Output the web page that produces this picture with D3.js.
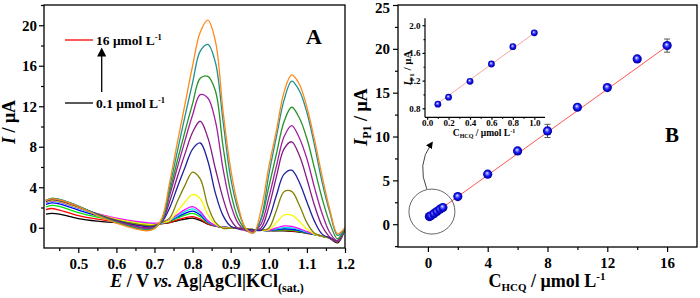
<!DOCTYPE html>
<html>
<head>
<meta charset="utf-8">
<script src="https://cdn.jsdelivr.net/npm/d3@7"></script>
<style>
body { margin: 0; background: #fff; }
svg { display: block; font-family: "Liberation Serif", "Times New Roman", serif; font-weight: bold; }
</style>
</head>
<body>
<svg id="chart" width="700" height="298"></svg>
<script>
// ---- panel A: DPV curves, potential (V) and current (uA)
var potential = [0.415,0.43,0.45,0.50,0.55,0.60,0.65,0.68,0.70,0.72,0.74,0.76,0.78,0.80,0.82,0.84,0.86,0.88,0.90,0.92,0.94,0.96,0.98,1.00,1.02,1.04,1.06,1.08,1.10,1.12,1.14,1.16,1.18,1.19,1.20];

var i_0_1 = [1.35,1.42,1.35,0.9,0.65,0.5,0.3,0.22,0.3, 0.40,0.51,0.69,0.86,0.95,0.73,0.35,0.15,0.05,-0.01, -0.05,-0.1,-0.18,-0.24,-0.29, -0.30,-0.31,-0.35,-0.43,-0.55, -0.67,-0.84,-1.05,-1.5, -1.05,-0.1];
var i_0_2 = [1.8,1.9,1.75,1.2,0.85,0.6,0.4,0.3,0.33, 0.42,0.54,0.77,0.98,1.10,0.85,0.39,0.16,0.05,-0.01, -0.05,-0.1,-0.18,-0.24,-0.29, -0.26,-0.25,-0.30,-0.39,-0.53, -0.67,-0.83,-1.03,-1.42, -0.98,-0.08];
var i_0_4 = [2.05,2.2,2.1,1.5,1.05,0.7,0.45,0.35,0.36, 0.44,0.62,0.94,1.24,1.42,1.09,0.49,0.18,0.05,-0.01, -0.05,-0.1,-0.18,-0.24,-0.28, -0.23,-0.2,-0.24,-0.35,-0.51, -0.67,-0.83,-1.02,-1.38, -0.95,-0.06];
var i_0_6 = [2.3,2.45,2.35,1.75,1.2,0.8,0.5,0.4,0.38, 0.45,0.67,1.06,1.43,1.65,1.27,0.56,0.19,0.05,-0.01, -0.05,-0.1,-0.18,-0.24,-0.27, -0.18,-0.1,-0.15,-0.28,-0.48, -0.66,-0.82,-1.01,-1.35, -0.92,-0.05];
var i_0_8 = [2.45,2.6,2.5,1.9,1.3,0.85,0.55,0.45,0.4, 0.46,0.73,1.17,1.61,1.87,1.44,0.63,0.21,0.05,-0.01, -0.05,-0.1,-0.18,-0.24,-0.26, -0.11,0.02,-0.02,-0.19,-0.44, -0.65,-0.82,-1.0,-1.32, -0.9,-0.05];
var i_1_0 = [2.5,2.65,2.55,1.95,1.4,0.95,0.62,0.5,0.45, 0.48,0.78,1.29,1.79,2.08,1.60,0.69,0.22,0.05,-0.01, -0.05,-0.1,-0.18,-0.24,-0.24, -0.02,0.18,0.14,-0.08,-0.38, -0.64,-0.82,-1.0,-1.3, -0.88,-0.05];
var i_2 = [2.55,2.7,2.6,2.0,1.35,0.85,0.5,0.35,0.3, 0.5,0.70,1.63,2.54,3.28,2.87,1.31,0.35,0.0,-0.01, -0.05,-0.1,-0.18,-0.24,-0.19, 0.51,1.26,1.24,0.65,-0.13, -0.63,-0.82,-1.0,-1.3, -0.85,-0.05];
var i_4 = [2.6,2.75,2.65,2.05,1.35,0.75,0.35,0.2,0.25, 0.55,0.97,2.60,4.19,5.49,4.82,2.16,0.53,-0.05,-0.02, -0.06,-0.1,-0.2,-0.24,-0.04, 1.71,3.56,3.59,2.25,0.5, -0.55,-0.82,-1.0,-1.3, -0.85,-0.05];
var i_6 = [2.6,2.8,2.7,2.1,1.35,0.7,0.25,0.1,0.15, 0.6,1.98,4.01,5.95,7.77,8.37,6.6,3.4,1.2,0.15, -0.1,-0.15,-0.22,-0.24,0.89, 3.21,5.29,5.68,4.5,2.55, 0.63,-0.63,-1.0,-1.3, -0.85,-0.05];
var i_8 = [2.65,2.85,2.75,2.1,1.3,0.65,0.15,0.0,0.1, 0.65,2.61,5.01,7.30,9.43,10.52,8.9,5.8,2.9,0.8, -0.1,-0.25,-0.3,-0.01,2.04, 5.05,7.79,8.49,7.15,4.82, 2.2,0.17,-0.91,-1.3, -0.85,-0.05];
var i_10 = [2.65,2.85,2.75,2.1,1.3,0.6,0.1,-0.1,0.05, 0.7,3.22,5.95,8.61,11.13,13.15,12.82,10.5,5.8,2.3, 0.4,-0.3,-0.35,0.39,2.97, 6.09,8.99,10.09,8.89,6.81, 3.96,1.4,-0.47,-1.3, -0.85,-0.05];
var i_12 = [2.7,2.9,2.8,2.15,1.3,0.55,0.0,-0.2,0.0, 0.75,3.57,6.62,9.52,12.26,14.77,14.95,13.5,8.0,3.5, 0.9,-0.2,-0.45,0.87,4.02, 7.31,10.47,11.9,10.86,8.81, 5.87,2.89,0.48,-1.1, -0.75,-0.05];
var i_14 = [2.7,2.9,2.8,2.15,1.25,0.5,-0.05,-0.25,-0.05, 0.8,4.04,7.54,11.03,14.34,17.44,18.11,16.3,10.5,4.9, 1.7,-0.1,-0.5,0.96,5.23, 8.99,12.6,14.49,13.55,11.38, 8.14,4.49,1.54,-0.75, -0.55,-0.02];
var i_16 = [2.7,2.85,2.75,2.1,1.2,0.45,-0.1,-0.3,-0.1, 1.0,4.5,8.4,12.2,16.0,19.3,20.5,18.4,11.5,5.8, 2.1,-0.1,-0.5,1.8,6.0, 9.6,13.4,15.1,14.2,11.9, 8.7,5.1,1.8,-0.6, -0.4,0.0];

var curveColors = ['#000000','#ff0000','#00e600','#0000ff','#00eaea','#ff00ff','#f8f800','#808000','#1f1f9f','#861a86','#a020a0','#259325','#1d9191','#ff8a1a'];
var xTicksA = [0.5,0.6,0.7,0.8,0.9,1.0,1.1,1.2];
var yTicksA = [0,4,8,12,16,20];

// ---- panel B: calibration, concentration (umol/L) vs peak current (uA)
var conc = [0.1,0.2,0.4,0.6,0.8,1.0,2,4,6,8,10,12,14,16];
var ip1 = [0.87,0.96,1.2,1.45,1.7,1.9,3.15,5.7,8.36,10.64,13.34,15.58,18.85,20.37];
var ip1Err = [0.05,0.05,0.05,0.05,0.05,0.05,0.2,0.2,0.2,0.75,0.2,0.2,0.2,0.75];
var fitX = [0.1, 16];
var fitY = [0.82, 20.3];
var xTicksB = [0,4,8,12,16];
var yTicksB = [0,5,10,15,20,25];

// inset (low range)
var concLow = [0.1,0.2,0.4,0.6,0.8,1.0];
var ip1Low = [0.86,0.96,1.19,1.44,1.69,1.89];
var fitLowX = [0.08, 1.02];
var fitLowY = [0.85, 1.91];
var xTicksIn = [0.0,0.2,0.4,0.6,0.8,1.0];
var yTicksIn = [0.8,1.2,1.6,2.0];

var svg = d3.select('#chart');

function styleAxis(g, size) {
    g.select('.domain').remove();
    g.selectAll('line').attr('stroke', '#000').attr('stroke-width', 1.2);
    g.selectAll('text').attr('fill', '#000')
	.style('font-size', size + 'px').style('font-weight', 'bold')
	.style('font-family', '"Liberation Serif", serif');
}

function minorBetween(ticks, step) {
    return ticks.slice(0, -1).map(function(t) { return t + step / 2; });
}

var defs = svg.append('defs');
var grad = defs.append('radialGradient').attr('id', 'ball')
    .attr('cx', '50%').attr('cy', '50%').attr('r', '50%')
    .attr('fx', '42%').attr('fy', '36%');
grad.append('stop').attr('offset', '0%').attr('stop-color', '#ffffff');
grad.append('stop').attr('offset', '22%').attr('stop-color', '#8a8aff');
grad.append('stop').attr('offset', '60%').attr('stop-color', '#1010f0');
grad.append('stop').attr('offset', '100%').attr('stop-color', '#00009a');

defs.append('clipPath').attr('id', 'clipA')
    .append('rect').attr('x', 44).attr('y', 5).attr('width', 301).attr('height', 243);

var arrowHead = defs.append('marker').attr('id', 'head')
    .attr('viewBox', '0 0 10 10').attr('refX', 5).attr('refY', 5)
    .attr('markerWidth', 7).attr('markerHeight', 7).attr('orient', 'auto');
arrowHead.append('path').attr('d', 'M0,0 L10,5 L0,10 z').attr('fill', '#000');

// ================= panel A =================
var xA = d3.scaleLinear().domain([0.41, 1.2]).range([44, 345]);
var yA = d3.scaleLinear().domain([-2, 22]).range([248, 5]);

var curves = [i_0_1, i_0_2, i_0_4, i_0_6, i_0_8, i_1_0, i_2, i_4, i_6, i_8, i_10, i_12, i_14, i_16];

var lineA = d3.line()
    .x(function(d) { return xA(d[0]); })
    .y(function(d) { return yA(d[1]); })
    .curve(d3.curveCatmullRom.alpha(0.5));

svg.append('g').attr('clip-path', 'url(#clipA)')
    .selectAll('path').data(curves).enter().append('path')
    .attr('fill', 'none')
    .attr('stroke-width', 1.3)
    .attr('stroke', function(d, i) { return curveColors[i]; })
    .attr('d', function(d) { return lineA(d3.zip(potential, d)); });

styleAxis(svg.append('g').attr('transform', 'translate(0,248)')
    .call(d3.axisBottom(xA).tickValues(xTicksA).tickSize(5).tickPadding(5)
	  .tickFormat(d3.format('.1f'))), 15);
styleAxis(svg.append('g').attr('transform', 'translate(0,248)')
    .call(d3.axisBottom(xA).tickValues([0.45].concat(minorBetween(xTicksA, 0.1))).tickSize(3).tickFormat('')), 15);
styleAxis(svg.append('g').attr('transform', 'translate(44,0)')
    .call(d3.axisLeft(yA).tickValues(yTicksA).tickSize(5).tickPadding(2)), 15);
styleAxis(svg.append('g').attr('transform', 'translate(44,0)')
    .call(d3.axisLeft(yA).tickValues(minorBetween(yTicksA, 4).concat([22])).tickSize(3).tickFormat('')), 15);

svg.append('rect').attr('x', 44).attr('y', 5).attr('width', 301).attr('height', 243)
    .attr('fill', 'none').attr('stroke', '#000').attr('stroke-width', 1.3);

var titleA = svg.append('text').attr('x', 207).attr('y', 286.5)
    .attr('text-anchor', 'middle').style('font-size', '18px');
titleA.append('tspan').attr('font-style', 'italic').text('E');
titleA.append('tspan').text(' / V ');
titleA.append('tspan').attr('font-style', 'italic').text('vs.');
titleA.append('tspan').text(' Ag|AgCl|KCl');
titleA.append('tspan').attr('dy', 5).style('font-size', '12px').text('(sat.)');

var yTitleA = svg.append('text').attr('transform', 'translate(15,122) rotate(-90)')
    .attr('text-anchor', 'middle').style('font-size', '18px');
yTitleA.append('tspan').attr('font-style', 'italic').text('I');
yTitleA.append('tspan').text(' / μA');

svg.append('text').attr('x', 306).attr('y', 43.5).style('font-size', '22px').text('A');

// legend
svg.append('line').attr('x1', 65).attr('x2', 93).attr('y1', 40).attr('y2', 40)
    .attr('stroke', '#ff0000').attr('stroke-width', 1.3);
svg.append('line').attr('x1', 65).attr('x2', 93).attr('y1', 103).attr('y2', 103)
    .attr('stroke', '#000').attr('stroke-width', 1.3);
var leg1 = svg.append('text').attr('x', 96).attr('y', 44.5).style('font-size', '13.5px');
leg1.append('tspan').text('16 μmol L');
leg1.append('tspan').attr('dy', -5).style('font-size', '8.5px').text('-1');
var leg2 = svg.append('text').attr('x', 96).attr('y', 107.5).style('font-size', '13.5px');
leg2.append('tspan').text('0.1 μmol L');
leg2.append('tspan').attr('dy', -5).style('font-size', '8.5px').text('-1');
svg.append('line').attr('x1', 101.7).attr('x2', 101.7).attr('y1', 92).attr('y2', 52)
    .attr('stroke', '#000').attr('stroke-width', 1.3).attr('marker-end', 'url(#head)');

// ================= panel B =================
var xB = d3.scaleLinear().domain([-2, 18]).range([398, 697]);
var yB = d3.scaleLinear().domain([-2.6, 25]).range([247, 5]);

styleAxis(svg.append('g').attr('transform', 'translate(0,247)')
    .call(d3.axisBottom(xB).tickValues(xTicksB).tickSize(5).tickPadding(5)), 15);
styleAxis(svg.append('g').attr('transform', 'translate(0,247)')
    .call(d3.axisBottom(xB).tickValues(minorBetween(xTicksB, 4)).tickSize(3).tickFormat('')), 15);
var yAxB = svg.append('g').attr('transform', 'translate(398,0)')
    .call(d3.axisLeft(yB).tickValues(yTicksB).tickSize(5).tickPadding(3));
styleAxis(yAxB, 15);
// top label sits at the very edge, nudge it down like the original
yAxB.selectAll('.tick text').filter(function(d) { return d === 25; }).attr('dy', '0.5em');
styleAxis(svg.append('g').attr('transform', 'translate(398,0)')
    .call(d3.axisLeft(yB).tickValues([-2.5].concat(minorBetween(yTicksB, 5))).tickSize(3).tickFormat('')), 15);

svg.append('rect').attr('x', 398).attr('y', 5).attr('width', 299).attr('height', 242)
    .attr('fill', 'none').attr('stroke', '#000').attr('stroke-width', 1.3);

var lineB = d3.line()
    .x(function(d) { return xB(d[0]); })
    .y(function(d) { return yB(d[1]); });

svg.append('path').attr('d', lineB(d3.zip(fitX, fitY)))
    .attr('stroke', '#ff5555').attr('stroke-width', 1).attr('fill', 'none');

var ptsB = d3.zip(conc, ip1, ip1Err);
var errB = svg.append('g').attr('stroke', '#555').attr('stroke-width', 1);
errB.selectAll('line.bar').data(ptsB).enter().append('line').attr('class', 'bar')
    .attr('x1', function(d) { return xB(d[0]); }).attr('x2', function(d) { return xB(d[0]); })
    .attr('y1', function(d) { return yB(d[1] - d[2]); }).attr('y2', function(d) { return yB(d[1] + d[2]); });
errB.selectAll('line.capTop').data(ptsB).enter().append('line').attr('class', 'capTop')
    .attr('x1', function(d) { return xB(d[0]) - 3; }).attr('x2', function(d) { return xB(d[0]) + 3; })
    .attr('y1', function(d) { return yB(d[1] + d[2]); }).attr('y2', function(d) { return yB(d[1] + d[2]); });
errB.selectAll('line.capBot').data(ptsB).enter().append('line').attr('class', 'capBot')
    .attr('x1', function(d) { return xB(d[0]) - 3; }).attr('x2', function(d) { return xB(d[0]) + 3; })
    .attr('y1', function(d) { return yB(d[1] - d[2]); }).attr('y2', function(d) { return yB(d[1] - d[2]); });

svg.append('g').selectAll('circle').data(ptsB).enter().append('circle')
    .attr('cx', function(d) { return xB(d[0]); })
    .attr('cy', function(d) { return yB(d[1]); })
    .attr('r', 4.6)
    .attr('fill', 'url(#ball)');

// circle + curved arrow pointing to the inset
svg.append('ellipse').attr('cx', xB(0.27)).attr('cy', yB(1.44)).attr('rx', 23).attr('ry', 22.5)
    .attr('fill', 'none').attr('stroke', '#666').attr('stroke-width', 1);
var arrowPath = d3.path();
arrowPath.moveTo(xB(-0.07), yB(4.0));
arrowPath.quadraticCurveTo(xB(-0.75), yB(6.8), xB(0.2), yB(9.1));
svg.append('path').attr('d', arrowPath.toString())
    .attr('fill', 'none').attr('stroke', '#444').attr('stroke-width', 1)
    .attr('marker-end', 'url(#head)');

var titleB = svg.append('text').attr('x', 547).attr('y', 286.5)
    .attr('text-anchor', 'middle').style('font-size', '18px');
titleB.append('tspan').text('C');
titleB.append('tspan').attr('dy', 4).style('font-size', '11px').text('HCQ');
titleB.append('tspan').attr('dy', -4).text(' / μmol L');
titleB.append('tspan').attr('dy', -7).style('font-size', '11px').text('-1');

var yTitleB = svg.append('text').attr('transform', 'translate(367,117) rotate(-90)')
    .attr('text-anchor', 'middle').style('font-size', '18px');
yTitleB.append('tspan').attr('font-style', 'italic').text('I');
yTitleB.append('tspan').attr('dy', 4).style('font-size', '12px').text('P1');
yTitleB.append('tspan').attr('dy', -4).text(' / μA');

svg.append('text').attr('x', 665).attr('y', 142).style('font-size', '21px').text('B');

// ---- inset
var xI = d3.scaleLinear().domain([-0.02, 1.1]).range([425, 545]);
var yI = d3.scaleLinear().domain([0.67, 2.1]).range([117.3, 18.3]);

styleAxis(svg.append('g').attr('transform', 'translate(0,117.3)')
    .call(d3.axisBottom(xI).tickValues(xTicksIn).tickSize(2.5).tickPadding(0).tickFormat(d3.format('.1f'))), 9);
styleAxis(svg.append('g').attr('transform', 'translate(0,117.3)')
    .call(d3.axisBottom(xI).tickValues(minorBetween(xTicksIn, 0.2)).tickSize(1.5).tickFormat('')), 9);
styleAxis(svg.append('g').attr('transform', 'translate(425,0)')
    .call(d3.axisLeft(yI).tickValues(yTicksIn).tickSize(2.5).tickPadding(2).tickFormat(d3.format('.1f'))), 9);
styleAxis(svg.append('g').attr('transform', 'translate(425,0)')
    .call(d3.axisLeft(yI).tickValues(minorBetween(yTicksIn, 0.4)).tickSize(1.5).tickFormat('')), 9);

svg.append('line').attr('x1', 425).attr('x2', 425).attr('y1', 18.3).attr('y2', 117.3)
    .attr('stroke', '#000').attr('stroke-width', 1.2);
svg.append('line').attr('x1', 425).attr('x2', 545).attr('y1', 117.3).attr('y2', 117.3)
    .attr('stroke', '#000').attr('stroke-width', 1.2);

var lineI = d3.line()
    .x(function(d) { return xI(d[0]); })
    .y(function(d) { return yI(d[1]); });
svg.append('path').attr('d', lineI(d3.zip(fitLowX, fitLowY)))
    .attr('stroke', '#f6a5a5').attr('stroke-width', 1).attr('fill', 'none');

svg.append('g').selectAll('circle').data(d3.zip(concLow, ip1Low)).enter().append('circle')
    .attr('cx', function(d) { return xI(d[0]); })
    .attr('cy', function(d) { return yI(d[1]); })
    .attr('r', 3.4)
    .attr('fill', 'url(#ball)');

var titleIn = svg.append('text').attr('x', 484).attr('y', 136)
    .attr('text-anchor', 'middle').style('font-size', '9.5px');
titleIn.append('tspan').text('C');
titleIn.append('tspan').attr('dy', 2).style('font-size', '6px').text('HCQ');
titleIn.append('tspan').attr('dy', -2).text(' / μmol L');
titleIn.append('tspan').attr('dy', -3.5).style('font-size', '6px').text('-1');

var yTitleIn = svg.append('text').attr('transform', 'translate(411,68) rotate(-90)')
    .attr('text-anchor', 'middle').style('font-size', '11px');
yTitleIn.append('tspan').attr('font-style', 'italic').text('I');
yTitleIn.append('tspan').attr('dy', 2.5).style('font-size', '7px').text('P1');
yTitleIn.append('tspan').attr('dy', -2.5).text(' / μA');
</script>
</body>
</html>
